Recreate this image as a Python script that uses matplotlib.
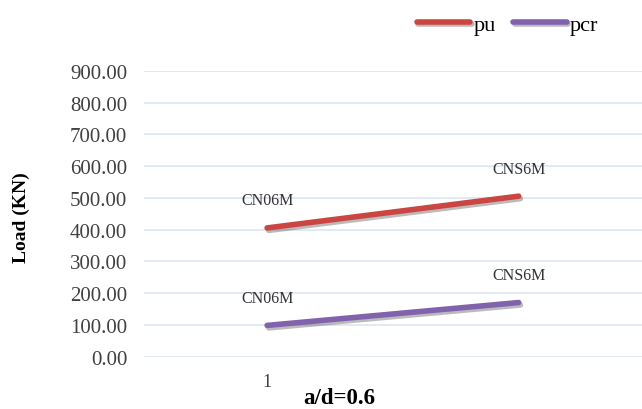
import matplotlib.pyplot as plt
import matplotlib.patheffects as pe

# data
x = [1, 2]
pu = [405, 505]
pcr = [98, 170]
point_labels = ["CN06M", "CNS6M"]
yticks = [0, 100, 200, 300, 400, 500, 600, 700, 800, 900]

plt.rcParams['font.family'] = ['Liberation Serif', 'DejaVu Serif']

fig = plt.figure(figsize=(6.42, 4.10), dpi=100)
ax = fig.add_axes([0.224, 0.128, 0.776, 0.697])

shadow = [pe.SimpleLineShadow(offset=(1.2, -1.8), alpha=0.4, shadow_color='#555555'), pe.Normal()]
ax.plot(x, pu, color='#CB4543', lw=4, solid_capstyle='round', label='pu', path_effects=shadow)
ax.plot(x, pcr, color='#8162AD', lw=4, solid_capstyle='round', label='pcr', path_effects=shadow)

for xi, yi, lab in zip(x, pu, point_labels):
    ax.annotate(lab, (xi, yi), xytext=(0, 14), textcoords='offset points',
                ha='center', va='bottom', fontsize=11.5, color='#333333')
for xi, yi, lab in zip(x, pcr, point_labels):
    ax.annotate(lab, (xi, yi), xytext=(0, 14), textcoords='offset points',
                ha='center', va='bottom', fontsize=11.5, color='#333333')

ax.set_xlim(0.51, 2.49)
ax.set_ylim(0, 900)
ax.set_yticks(yticks)
ax.set_yticklabels([f"{v:.2f}" for v in yticks], fontsize=15, color='#404040')
ax.set_xticks([1])
ax.set_xticklabels(["1"], fontsize=13, color='#404040')
ax.tick_params(length=0, pad=12)
ax.tick_params(axis='y', pad=12)
ax.grid(axis='y', color='#DCE6F2', lw=1.2)
for s in ax.spines.values():
    s.set_visible(False)

ax.set_ylabel("Load (KN)", fontsize=14, fontweight='bold')
ax.yaxis.set_label_coords(-0.228, 0.49)
ax.set_xlabel("a/d=0.6", fontsize=16.5, fontweight='bold')
ax.xaxis.set_label_coords(0.393, -0.105)

fig.legend(loc='upper right', bbox_to_anchor=(0.963, 1.012), ncol=2, frameon=False,
           fontsize=16, handlelength=2.4, columnspacing=0.8, handletextpad=0.15)

fig.savefig("out.png")
